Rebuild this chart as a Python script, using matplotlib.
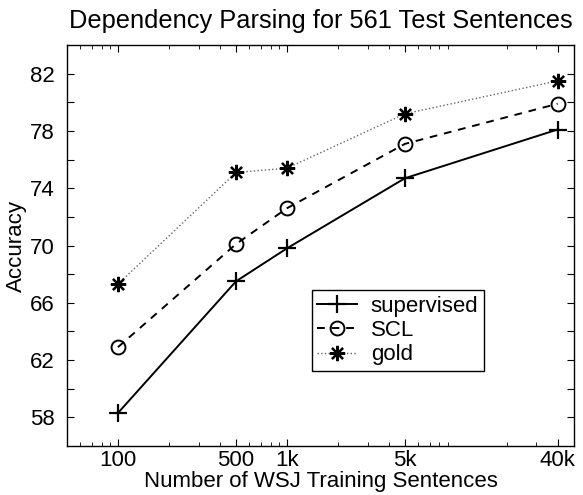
import matplotlib
matplotlib.use('Agg')
import matplotlib.pyplot as plt
import numpy as np

plt.rcParams['font.family'] = ['Liberation Sans', 'DejaVu Sans']

train_sizes = [100, 500, 1000, 5000, 40000]
tick_labels = ['100', '500', '1k', '5k', '40k']
supervised = [58.3, 67.5, 69.8, 74.7, 78.1]
scl = [62.9, 70.1, 72.6, 77.1, 79.9]
gold = [67.3, 75.1, 75.4, 79.2, 81.5]

fig = plt.figure(figsize=(5.83, 4.95), dpi=100)
ax = fig.add_axes([0.115, 0.099, 0.8695, 0.81])

ax.plot(train_sizes, supervised, '-', color='black', lw=1.4,
        marker='+', ms=13, mew=1.6, label='supervised')
ax.plot(train_sizes, scl, '--', color='black', lw=1.4, dashes=(4, 3.5),
        marker='o', ms=10, mew=1.4, mfc='none', label='SCL')
ax.plot(train_sizes, gold, ':', color='#666666', lw=1.0,
        marker=(8, 2, 0), ms=11, mew=1.6, mec='black', label='gold')

ax.set_xscale('log')
ax.set_xlim(50, 50000)
ax.set_ylim(56, 84)
ax.set_xticks(train_sizes)
ax.set_xticklabels(tick_labels)
yt = np.arange(58, 84, 2)
ax.set_yticks(yt)
ax.set_yticklabels([str(v) if (v - 58) % 4 == 0 else '' for v in yt])

ax.tick_params(which='both', direction='in', top=True, right=True,
               labelsize=16, colors='black')
ax.tick_params(which='major', length=5, width=0.8)
ax.tick_params(axis='x', which='major', pad=3)
ax.tick_params(axis='y', which='major', pad=9)
ax.tick_params(which='minor', length=3, width=0.6)
for s in ax.spines.values():
    s.set_linewidth(1.0)

ax.set_title('Dependency Parsing for 561 Test Sentences', fontsize=18.3, pad=12)
ax.set_xlabel('Number of WSJ Training Sentences', fontsize=16, labelpad=0)
ax.set_ylabel('Accuracy', fontsize=16, labelpad=2)

leg = ax.legend(loc='lower left', bbox_to_anchor=(0.483, 0.187), fontsize=16,
                frameon=True, fancybox=False, edgecolor='black', framealpha=1,
                borderpad=0.25, labelspacing=0.15, handlelength=1.8,
                handletextpad=0.6, borderaxespad=0)
leg.get_frame().set_linewidth(1.0)

fig.savefig('out.png', dpi=100)
